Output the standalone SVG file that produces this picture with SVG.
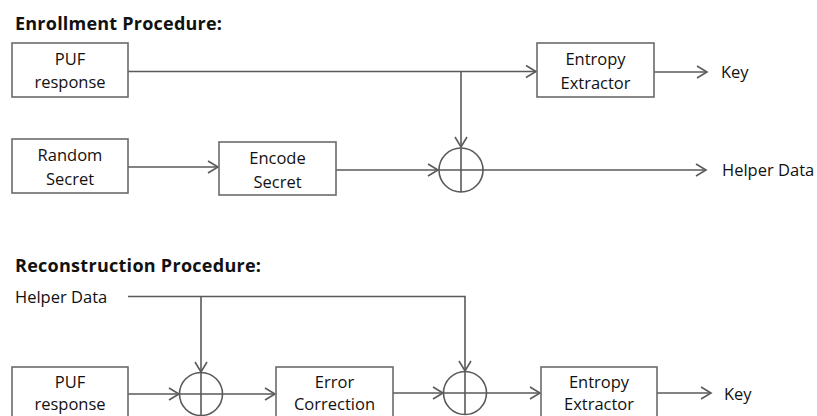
<svg xmlns="http://www.w3.org/2000/svg" width="817" height="416" viewBox="0 0 817 416">
<defs>
<style>
.box{fill:#fff;stroke:#6b6b6b;stroke-width:1.6}
.ln{fill:none;stroke:#5a5a5a;stroke-width:1.6}
.xor{fill:#fff;stroke:#5a5a5a;stroke-width:1.6}
.t{font-family:"Open Sans","Liberation Sans",sans-serif;font-size:16.5px;fill:#111;text-anchor:middle}
.l{font-family:"Open Sans","Liberation Sans",sans-serif;font-size:16.5px;fill:#111}
.h{font-family:"Open Sans","Liberation Sans",sans-serif;font-size:18px;font-weight:bold;fill:#111}
</style>
<marker id="ar" markerUnits="userSpaceOnUse" markerWidth="16" markerHeight="16" viewBox="-12 -8 14 16" refX="0" refY="0" orient="auto">
<path d="M-10,-6 L0,0 L-10,6" fill="none" stroke="#5a5a5a" stroke-width="1.6"/>
</marker>
</defs>

<text class="h" x="15" y="30" textLength="207" lengthAdjust="spacing">Enrollment Procedure:</text>
<text class="h" x="15" y="272" textLength="246" lengthAdjust="spacing">Reconstruction Procedure:</text>

<g id="connectors">
<path class="ln" d="M128,71.5 H536" marker-end="url(#ar)"/>
<path class="ln" d="M461,71.5 V147" marker-end="url(#ar)"/>
<path class="ln" d="M128,167 H218" marker-end="url(#ar)"/>
<path class="ln" d="M336,170 H438" marker-end="url(#ar)"/>
<path class="ln" d="M483,170 H706" marker-end="url(#ar)"/>
<path class="ln" d="M654,72 H707" marker-end="url(#ar)"/>
<path class="ln" d="M128,296.5 H465 V371" marker-end="url(#ar)"/>
<path class="ln" d="M201,296.5 V372" marker-end="url(#ar)"/>
<path class="ln" d="M128,394 H179" marker-end="url(#ar)"/>
<path class="ln" d="M222,394 H275" marker-end="url(#ar)"/>
<path class="ln" d="M393,393 H443" marker-end="url(#ar)"/>
<path class="ln" d="M486,393 H540" marker-end="url(#ar)"/>
<path class="ln" d="M657,393 H711" marker-end="url(#ar)"/>
</g>

<g id="e_puf"><rect class="box" x="12" y="43" width="116" height="54"/><text class="t" x="70" y="65">PUF</text><text class="t" x="70" y="88">response</text></g>
<g id="e_rand"><rect class="box" x="12" y="139" width="116" height="54"/><text class="t" x="70" y="161">Random</text><text class="t" x="70" y="185">Secret</text></g>
<g id="e_enc"><rect class="box" x="219" y="142" width="117" height="53"/><text class="t" x="277.5" y="164">Encode</text><text class="t" x="277.5" y="188">Secret</text></g>
<g id="e_ent"><rect class="box" x="537" y="43" width="117" height="54"/><text class="t" x="595.5" y="65">Entropy</text><text class="t" x="595.5" y="89">Extractor</text></g>
<g id="e_xor"><circle class="xor" cx="461" cy="170" r="22"/><path class="ln" d="M439,170 H483 M461,148 V192"/></g>
<g id="e_key"><text class="l" x="721" y="78">Key</text></g>
<g id="e_helper"><text class="l" x="722" y="176">Helper Data</text></g>

<g id="r_helper"><text class="l" x="15" y="303">Helper Data</text></g>
<g id="r_puf"><rect class="box" x="12" y="367" width="116" height="54"/><text class="t" x="70" y="388">PUF</text><text class="t" x="70" y="410">response</text></g>
<g id="r_xor1"><circle class="xor" cx="201" cy="394" r="21.5"/><path class="ln" d="M179.5,394 H222.5 M201,372.5 V415.5"/></g>
<g id="r_ecc"><rect class="box" x="276" y="367" width="117" height="54"/><text class="t" x="334.5" y="388">Error</text><text class="t" x="334.5" y="410">Correction</text></g>
<g id="r_xor2"><circle class="xor" cx="465" cy="393" r="21.5"/><path class="ln" d="M443.5,393 H486.5 M465,371.5 V414.5"/></g>
<g id="r_ent"><rect class="box" x="541" y="367" width="116" height="54"/><text class="t" x="599" y="388">Entropy</text><text class="t" x="599" y="410">Extractor</text></g>
<g id="r_key"><text class="l" x="724" y="400">Key</text></g>
</svg>
